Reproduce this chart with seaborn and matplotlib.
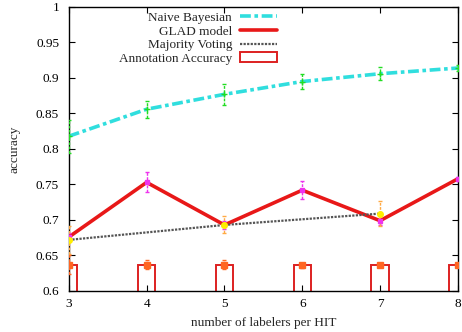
import matplotlib
matplotlib.use("Agg")
import matplotlib.pyplot as plt
import seaborn as sns

# data
labelers = [3, 4, 5, 6, 7, 8]
naive_bayes = [0.818, 0.856, 0.877, 0.895, 0.906, 0.914]
naive_bayes_err = [0.023, 0.012, 0.015, 0.011, 0.009, 0.004]
glad = [0.676, 0.753, 0.693, 0.742, 0.699, 0.758]
glad_err = [0.005, 0.014, 0.005, 0.013, 0.006, 0.003]
mv_labelers = [3, 5, 7]
majority = [0.672, 0.693, 0.709]
majority_err = [0.020, 0.012, 0.018]
annotation = [0.637, 0.637, 0.637, 0.636, 0.637, 0.637]
annotation_err = [0.013, 0.006, 0.006, 0.004, 0.003, 0.003]

sns.set_style("ticks")
plt.rcParams['font.family'] = ['Liberation Serif', 'DejaVu Serif']

fig = plt.figure(figsize=(4.62, 3.32), dpi=100)
ax = fig.add_axes([0.149, 0.1235, 0.842, 0.8555])

# annotation accuracy bars
sns.barplot(x=labelers, y=annotation, native_scale=True, width=0.22,
            fill=False, edgecolor='#dd2020', linewidth=1.4, ax=ax,
            label='Annotation Accuracy', zorder=2)

# lines
sns.lineplot(x=labelers, y=naive_bayes, color='#30dede', lw=2.6,
             linestyle=(0, (3, 1, 1, 1)), ax=ax, label='Naive Bayesian', zorder=3)
sns.lineplot(x=labelers, y=glad, color='#e81818', lw=2.6, ax=ax,
             label='GLAD model', zorder=3)
sns.lineplot(x=mv_labelers, y=majority, color='#555555', lw=1.6,
             linestyle=(0, (1, 0.6)), ax=ax, label='Majority Voting', zorder=3)

# error bars
ax.errorbar(labelers, naive_bayes, yerr=naive_bayes_err, fmt='+', color='#22dd22',
            ms=5, capsize=1.5, elinewidth=1, ls='none', zorder=4)
ax.errorbar(labelers, glad, yerr=glad_err, fmt='s', color='#ee33ee',
            ms=3, capsize=1.5, elinewidth=1, ls='none', zorder=4)
ax.errorbar(mv_labelers, majority, yerr=majority_err, fmt='o', color='#ffaa44',
            mfc='#ffee00', mec='#ffee00', ms=4, capsize=1.5, elinewidth=1, ls='none', zorder=4)
ax.errorbar(labelers, annotation, yerr=annotation_err, fmt='s', color='#ff6622',
            ms=4, capsize=1.5, elinewidth=1, ls='none', zorder=4)
for ebars in ax.containers:
    if hasattr(ebars, 'lines') and ebars.lines[2]:
        for c in ebars.lines[2]:
            c.set_linestyle((0, (2, 1)))

ax.set_xlim(3, 8)
ax.set_ylim(0.6, 1.0)
ax.set_xticks(labelers)
ax.set_xticklabels([str(v) for v in labelers])
ax.set_yticks([0.6, 0.65, 0.7, 0.75, 0.8, 0.85, 0.9, 0.95, 1.0])
ax.set_yticklabels(['0.6', '0.65', '0.7', '0.75', '0.8', '0.85', '0.9', '0.95', '1'])
ax.tick_params(direction='in', length=4, width=0.8, top=True, right=True,
               labelsize=9.5, colors='black')
ax.tick_params(axis='y', pad=7)
ax.tick_params(axis='x', pad=5)
for s in ax.spines.values():
    s.set_visible(True)
    s.set_linewidth(1)
    s.set_color('black')

ax.set_xlabel('number of labelers per HIT', fontsize=9.5, labelpad=5)
ax.set_ylabel('accuracy', fontsize=9.5, labelpad=11)

handles, labels = ax.get_legend_handles_labels()
order = ['Naive Bayesian', 'GLAD model', 'Majority Voting', 'Annotation Accuracy']
hmap = dict(zip(labels, handles))
ax.legend([hmap[k] for k in order], order, loc='upper right',
          bbox_to_anchor=(0.535, 0.983), frameon=False, markerfirst=False,
          fontsize=9.5, handlelength=2.8, handletextpad=0.6,
          labelspacing=0.1, borderpad=0, borderaxespad=0)

fig.savefig('out.png', dpi=100)
